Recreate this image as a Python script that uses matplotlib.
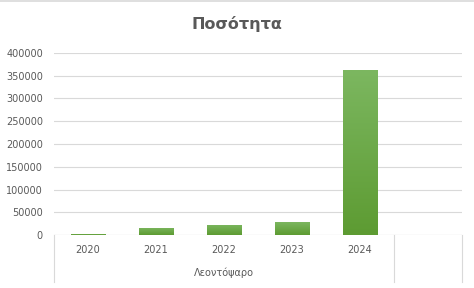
import numpy as np
import matplotlib.pyplot as plt
from matplotlib.colors import LinearSegmentedColormap

years = ["2020", "2021", "2022", "2023", "2024"]
values = [2500, 15500, 22000, 28500, 362000]
group_label = "Λεοντόψαρο"
title = "Ποσότητα"

plt.rcParams['font.family'] = ['DejaVu Sans']
grey = "#595959"

fig = plt.figure(figsize=(4.74, 2.88), dpi=100)
ax = fig.add_axes([0.114, 0.184, 0.861, 0.632])

n_slots = len(years) + 1  # empty category at the end
x = np.arange(len(years))
bars = ax.bar(x, values, width=0.5, color="#6aaa3f", zorder=3)

# vertical gradient on each bar, lighter at the top
grad = np.linspace(0, 1, 256).reshape(-1, 1)
cmap = LinearSegmentedColormap.from_list("g", ["#5d9b32", "#7cb760"])
for b in bars:
    x0, y0 = b.get_x(), b.get_y()
    w, h = b.get_width(), b.get_height()
    im = ax.imshow(grad, cmap=cmap, aspect="auto", origin="lower",
                   extent=[x0, x0 + w, y0, y0 + h], zorder=4)
    im.set_clip_path(b)

ax.set_xlim(-0.5, n_slots - 0.5)
ax.set_ylim(0, 400000)
ax.set_yticks(np.arange(0, 400001, 50000))
ax.tick_params(axis="y", length=0, labelsize=7, labelcolor=grey, pad=8)
ax.set_xticks([])
ax.grid(axis="y", color="#d9d9d9", linewidth=0.8, zorder=0)
for s in ax.spines.values():
    s.set_visible(False)

# baseline and category axis frame
ax.axhline(0, color="#d9d9d9", linewidth=0.8, zorder=2)
trans = ax.get_xaxis_transform()
for xv in [-0.5, len(years) - 0.5, n_slots - 0.5]:
    ax.plot([xv, xv], [0, -0.26], transform=trans, color="#d9d9d9",
            linewidth=0.8, clip_on=False)
for xi, yr in zip(x, years):
    ax.text(xi, -0.085, yr, transform=trans, ha="center", va="center",
            fontsize=7, color=grey)
ax.text((len(years) - 1) / 2, -0.21, group_label, transform=trans,
        ha="center", va="center", fontsize=7, color=grey)

fig.text(0.5, 0.915, title, ha="center", va="center", fontsize=11.5,
         fontweight="bold", color=grey)
fig.add_artist(plt.Line2D([0, 1], [0.997, 0.997], color="#d9d9d9",
                          linewidth=1.2, transform=fig.transFigure))

fig.savefig("out.png", dpi=100)
